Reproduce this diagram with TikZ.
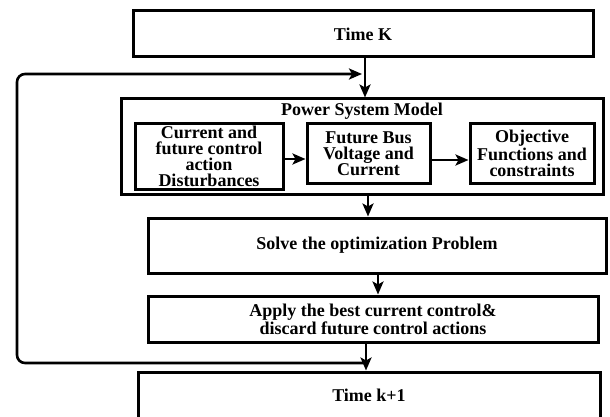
\documentclass[tikz,border=0pt]{standalone}
\usepackage{fontspec}
\setmainfont{Liberation Serif}
\usetikzlibrary{arrows.meta}
\begin{document}
\begin{tikzpicture}[x=0.5pt,y=-0.5pt,
  box/.style={draw, line width=1.5pt, inner sep=0pt, align=center,
    font=\bfseries\fontsize{9}{8}\selectfont},
  arr/.style={line width=1.3pt, -{Stealth[length=6.5pt,width=5.5pt,inset=1.5pt]}}]
\useasboundingbox (0,0) rectangle (610,417);
\node[box, minimum width=230pt, minimum height=23pt] (timek) at (363,34) {Time K};
\node[box, minimum width=241pt, minimum height=47.5pt] (psm) at (362,146.5) {};
\node[font=\bfseries\fontsize{9}{8}\selectfont, inner sep=0pt] (psmt) at (362,111) {Power System Model};
\node[box, minimum width=74pt, minimum height=32.5pt] (cur) at (209,156.5) {Current and\\future control\\action\\Disturbances};
\node[box, minimum width=61.5pt, minimum height=29.5pt] (fut) at (368.5,153.5) {Future Bus\\Voltage and\\Current};
\node[box, minimum width=62pt, minimum height=29.5pt] (obj) at (532,153.5) {Objective\\Functions and\\constraints};
\node[box, minimum width=229pt, minimum height=27.5pt] (solve) at (377,245.5) {Solve the optimization Problem};
\node[box, minimum width=225pt, minimum height=23pt, font=\bfseries\fontsize{9}{9}\selectfont] (apply) at (373,319) {Apply the best current control\&\\discard future control actions};
\node[box, minimum width=231pt, minimum height=23pt] (tk1) at (369,395) {Time k+1};
\coordinate (a1) at (365,0);
\coordinate (a2) at (368,0);
\coordinate (a3) at (378,0);
\coordinate (j) at (366,363);
\coordinate (jt) at (365,74);
\coordinate (c1) at (17,363);
\coordinate (c2) at (17,74);
\draw[arr] (timek.south -| a1) -- (psm.north -| a1);
\draw[arr] (cur.east |- 0,159) -- (fut.west |- 0,159);
\draw[arr] (fut.east |- 0,160) -- (obj.west |- 0,160);
\draw[arr] (psm.south -| a2) -- (solve.north -| a2);
\draw[arr] (solve.south -| a3) -- (apply.north -| a3);
\draw[arr] (apply.south -| j) -- (tk1.north -| j);
\draw[arr, rounded corners=4pt, shorten >=1.5pt] (j) -- (c1) -- (c2) -- (jt);
\end{tikzpicture}
\end{document}
